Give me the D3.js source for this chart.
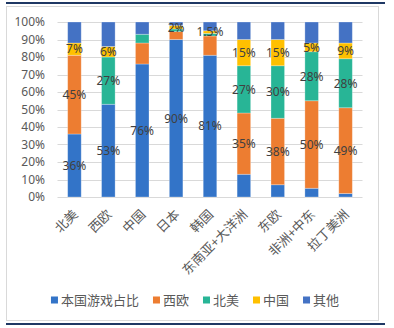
<!DOCTYPE html>
<html><head><meta charset="utf-8">
<script src="https://cdn.jsdelivr.net/npm/d3@7"></script>
<style>
html,body{margin:0;padding:0;background:#fff;}
svg{display:block;font-family:"Noto Sans CJK SC","Noto Sans",sans-serif;}
</style></head>
<body>
<svg id="chart" width="394" height="328"></svg>
<script>
const categories = ["北美","西欧","中国","日本","韩国","东南亚+大洋洲","东欧","非洲+中东","拉丁美洲"];
const seriesNames = ["本国游戏占比","西欧","北美","中国","其他"];
const domestic     = [36, 53, 76, 90,  81,  13,  7,  5,  2];
const westEurope   = [45,  0, 12, 4.5, 11,  35, 38, 50, 49];
const northAmerica = [ 0, 27,  5, 1.5, 1.5, 27, 30, 28, 28];
const china        = [ 7,  6,  0, 2,   1.5, 15, 15,  5,  9];
const other        = [12, 14,  7, 2,   5,   10, 10, 12, 12];
const domesticLabels     = ["36%","53%","76%","90%","81%",null,null,null,null];
const westEuropeLabels   = ["45%",null,null,null,null,"35%","38%","50%","49%"];
const northAmericaLabels = [null,"27%",null,null,null,"27%","30%","28%","28%"];
const chinaLabels        = ["7%","6%",null,"2%","1.5%","15%","15%","5%","9%"];
const otherLabels        = [null,null,null,null,null,null,null,null,null];
const yTicks = [0,10,20,30,40,50,60,70,80,90,100];
const colors = ["#3374C8","#ED7D31","#28B596","#FFC000","#4472C4"];

const seriesValues = [domestic, westEurope, northAmerica, china, other];
const seriesLabels = [domesticLabels, westEuropeLabels, northAmericaLabels, chinaLabels, otherLabels];

const svg = d3.select("#chart");

// frame
svg.append("rect").attr("x",6.5).attr("y",6.5).attr("width",372).attr("height",314)
  .attr("fill","#fff").attr("stroke","#d9d9d9").attr("stroke-width",1);
svg.append("rect").attr("x",6).attr("y",2).attr("width",379).attr("height",2).attr("fill","#1F3864");
svg.append("rect").attr("x",6).attr("y",323).attr("width",379).attr("height",2).attr("fill","#1F3864");

const x = d3.scaleBand().domain(categories).range([57.5, 362.5]).paddingInner(0.6).paddingOuter(0.3);
const y = d3.scaleLinear().domain([0,100]).range([197, 22]);

// gridlines
svg.append("g").selectAll("line").data(yTicks).join("line")
  .attr("x1",57.5).attr("x2",362.5)
  .attr("y1",d=>Math.round(y(d))+0.5).attr("y2",d=>Math.round(y(d))+0.5)
  .attr("stroke","#d9d9d9").attr("stroke-width",1);

// y axis labels
const yAxis = d3.axisLeft(y).tickValues(yTicks).tickFormat(d=>d+"%").tickSize(0).tickPadding(0);
const yg = svg.append("g").attr("transform","translate(45,0)").call(yAxis);
yg.select(".domain").remove();
yg.selectAll("text").attr("fill","#595959").attr("font-size","12px")
  .attr("font-family","'Noto Sans','Noto Sans CJK SC',sans-serif");

// stacked data
const table = categories.map((c,i)=>{
  const o = {cat:c};
  seriesNames.forEach((s,j)=>{ o[s] = seriesValues[j][i]; });
  return o;
});
const stack = d3.stack().keys(seriesNames)(table);

const bars = svg.append("g");
stack.forEach((layer,j)=>{
  bars.append("g").selectAll("rect").data(layer).join("rect")
    .attr("x",d=>x(d.data.cat))
    .attr("width",x.bandwidth())
    .attr("y",d=>y(d[1]))
    .attr("height",d=>Math.max(0,y(d[0])-y(d[1])))
    .attr("fill",colors[j])
    .attr("stroke",d=>(d[1]-d[0])>0?"rgba(255,255,255,0.35)":"none")
    .attr("stroke-width",0.8);
});

// data labels
const lg = svg.append("g");
stack.forEach((layer,j)=>{
  layer.forEach((d,i)=>{
    const lab = seriesLabels[j][i];
    if(!lab) return;
    lg.append("text")
      .attr("x",x(d.data.cat)+x.bandwidth()/2)
      .attr("y",y((d[0]+d[1])/2))
      .attr("dy","0.36em")
      .attr("text-anchor","middle")
      .attr("font-size","12px")
      .attr("font-family","'Noto Sans','Noto Sans CJK SC',sans-serif")
      .attr("fill","#404040")
      .text(lab);
  });
});

// x labels
const xg = svg.append("g");
categories.forEach(c=>{
  const cx = x(c)+x.bandwidth()/2;
  xg.append("text")
    .attr("transform",`translate(${cx+1},${212}) rotate(-45)`)
    .attr("text-anchor","end")
    .attr("dy","0.35em")
    .attr("font-size","13px")
    .attr("fill","#595959")
    .text(c);
});

// legend
const leg = svg.append("g");
let items = [];
seriesNames.forEach((s,j)=>{
  const g = leg.append("g");
  g.append("rect").attr("x",0).attr("y",-3.5).attr("width",7).attr("height",7).attr("fill",colors[j]);
  const t = g.append("text").attr("x",10).attr("y",0).attr("dy","0.35em")
    .attr("font-size","13px").attr("fill","#595959").text(s);
  items.push({g, w: 10 + t.node().getComputedTextLength()});
});
const gap = 14;
const total = d3.sum(items,d=>d.w) + gap*(items.length-1);
let lx = 195 - total/2;
items.forEach(it=>{ it.g.attr("transform",`translate(${lx},300)`); lx += it.w + gap; });
</script>
</body></html>
